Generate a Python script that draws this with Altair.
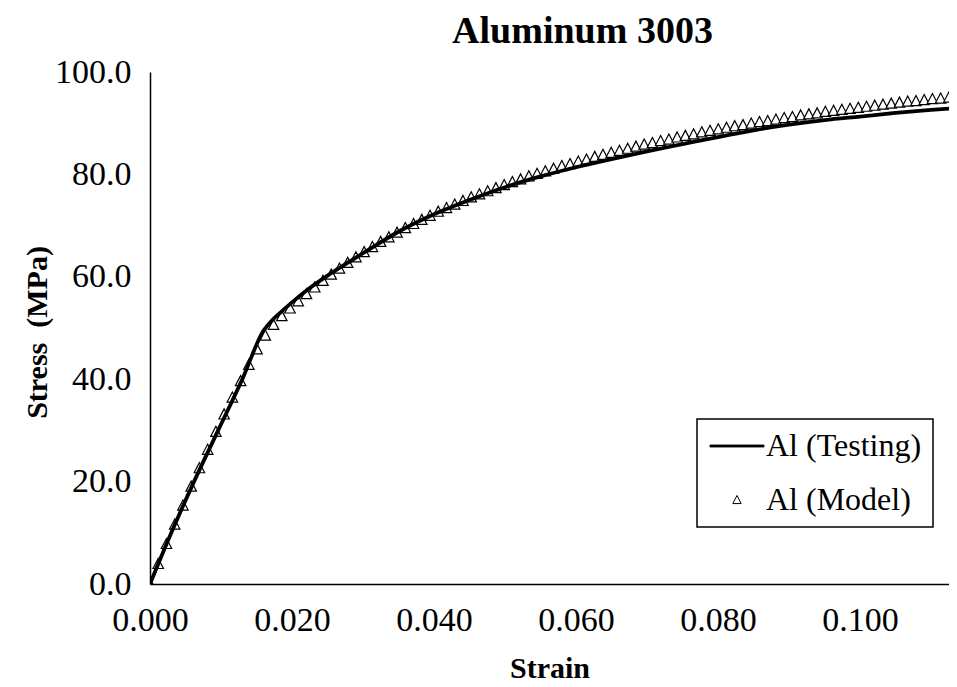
import altair as alt
import pandas as pd

# Testing curve
test_strain = [0.0, 0.0030, 0.0062, 0.0096, 0.0130, 0.0160, 0.0172, 0.0186, 0.0200, 0.0225,
               0.0254, 0.0300, 0.0350, 0.0400, 0.0450, 0.0500, 0.0550, 0.0600, 0.0650, 0.0700,
               0.0750, 0.0800, 0.0850, 0.0900, 0.0950, 0.1000, 0.1050, 0.1100, 0.1140]
test_stress = [0.0, 10.0, 20.0, 30.0, 40.0, 49.5, 51.5, 53.3, 55.0, 57.8,
               60.6, 64.6, 68.8, 72.2, 75.0, 77.5, 79.6, 81.4, 83.0, 84.5,
               85.9, 87.3, 88.6, 89.7, 90.6, 91.3, 92.0, 92.6, 93.0]

# Model points
model_strain = [0.0, 0.00116, 0.00232, 0.00348, 0.00464, 0.0058, 0.00696, 0.00812, 0.00928, 0.01044,
                0.0116, 0.01276, 0.01392, 0.01508, 0.01624, 0.0174, 0.01856, 0.01972, 0.02088, 0.02204,
                0.0232, 0.02436, 0.02552, 0.02668, 0.02784, 0.029, 0.03016, 0.03132, 0.03248, 0.03364,
                0.0348, 0.03596, 0.03712, 0.03828, 0.03944, 0.0406, 0.04176, 0.04292, 0.04408, 0.04524,
                0.0464, 0.04756, 0.04872, 0.04988, 0.05104, 0.0522, 0.05336, 0.05452, 0.05568, 0.05684,
                0.058, 0.05916, 0.06032, 0.06148, 0.06264, 0.0638, 0.06496, 0.06612, 0.06728, 0.06844,
                0.0696, 0.07076, 0.07192, 0.07308, 0.07424, 0.0754, 0.07656, 0.07772, 0.07888, 0.08004,
                0.0812, 0.08236, 0.08352, 0.08468, 0.08584, 0.087, 0.08816, 0.08932, 0.09048, 0.09164,
                0.0928, 0.09396, 0.09512, 0.09628, 0.09744, 0.0986, 0.09976, 0.10092, 0.10208, 0.10324,
                0.1044, 0.10556, 0.10672, 0.10788, 0.10904, 0.1102, 0.11136, 0.11252]
model_stress = [0.0, 3.9, 7.8, 11.6, 15.3, 19.0, 22.6, 26.2, 29.7, 33.1,
                36.4, 39.6, 42.8, 45.8, 48.5, 50.6, 52.3, 53.8, 55.2, 56.6,
                57.9, 59.2, 60.4, 61.6, 62.7, 63.8, 64.8, 65.8, 66.8, 67.7,
                68.6, 69.5, 70.3, 71.1, 71.9, 72.7, 73.4, 74.1, 74.8, 75.5,
                76.1, 76.7, 77.3, 77.9, 78.5, 79.0, 79.6, 80.1, 80.6, 81.1,
                81.6, 82.0, 82.5, 82.9, 83.4, 83.8, 84.2, 84.6, 85.0, 85.4,
                85.8, 86.1, 86.5, 86.8, 87.2, 87.5, 87.8, 88.2, 88.5, 88.8,
                89.1, 89.4, 89.6, 89.9, 90.2, 90.4, 90.7, 91.0, 91.2, 91.5,
                91.7, 91.9, 92.2, 92.4, 92.6, 92.8, 93.0, 93.2, 93.4, 93.6,
                93.8, 94.0, 94.2, 94.3, 94.5, 94.7, 94.8, 95.0]

series_names = ["Al (Testing)", "Al (Model)"]
x_ticks = [0.0, 0.02, 0.04, 0.06, 0.08, 0.10]
y_ticks = [0, 20, 40, 60, 80, 100]

test_df = pd.DataFrame({"strain": test_strain, "stress": test_stress, "series": series_names[0]})
model_df = pd.DataFrame({"strain": model_strain, "stress": model_stress, "series": series_names[1]})

FONT = "Liberation Serif"
W, H = 799, 512
XMAX = W / 7100.0

line_path = "M-1.74,-0.06L1.74,-0.06L1.74,0.06L-1.74,0.06Z"
tri_path = "M0,-0.29L0.27,0.23L-0.27,0.23Z"

x_enc = alt.X("strain:Q", scale=alt.Scale(domain=[0, XMAX], nice=False, zero=False),
              axis=alt.Axis(title="Strain", values=x_ticks, format=".3f", labelFlush=False,
                            titleX=W / 2, titleY=84, titleBaseline="middle"))
y_enc = alt.Y("stress:Q", scale=alt.Scale(domain=[0, 100], nice=False),
              axis=alt.Axis(title="Stress\u00a0 (MPa)", values=y_ticks, format=".1f", labelFlush=False,
                            titleX=-113, titleY=260, titleBaseline="middle", titleAngle=270))

leg = alt.Legend(title=None, orient="none", legendX=547, legendY=347,
                 symbolSize=961, padding=11, rowPadding=22, labelOffset=13, symbolOffset=13,
                 fillColor="white", strokeColor="black", labelFont=FONT, labelFontSize=32,
                 labelColor="black", labelLimit=400, symbolStrokeColor="black",
                 symbolStrokeWidth=1, symbolOpacity=1)

points = alt.Chart(model_df).mark_point(filled=True, size=1500, stroke="black", strokeWidth=1.2,
                                        opacity=1, clip=True).encode(
    x=x_enc, y=y_enc,
    shape=alt.Shape("series:N", scale=alt.Scale(domain=series_names, range=[line_path, tri_path]), legend=leg),
    fill=alt.Fill("series:N", scale=alt.Scale(domain=series_names, range=["black", "white"]), legend=leg),
    stroke=alt.Stroke("series:N", scale=alt.Scale(domain=series_names, range=["black", "black"]), legend=leg),
)

line = alt.Chart(test_df).mark_line(color="black", strokeWidth=3.8, interpolate="monotone", clip=True).encode(
    x=x_enc, y=y_enc)

chart = alt.layer(points, line).properties(
    width=W, height=H,
    autosize=alt.AutoSizeParams(type="none"),
    padding={"left": 142, "top": 64, "right": 0, "bottom": 99},
    title=alt.TitleParams("Aluminum 3003", font=FONT, fontSize=38, fontWeight="bold", color="black",
                          anchor="middle", dx=33, dy=37, offset=22, baseline="middle"),
).configure_view(stroke=None).configure_axis(
    domainColor="black", domainWidth=1.5, ticks=False, tickSize=0, grid=False,
    labelFont=FONT, labelFontSize=34, labelColor="black", labelPadding=19,
    titleFont=FONT, titleFontSize=30, titleFontWeight="bold", titleColor="black",
).configure_legend(strokeWidth=1.5)

chart.save("out.html", embed_options={"renderer": "svg", "actions": False})
